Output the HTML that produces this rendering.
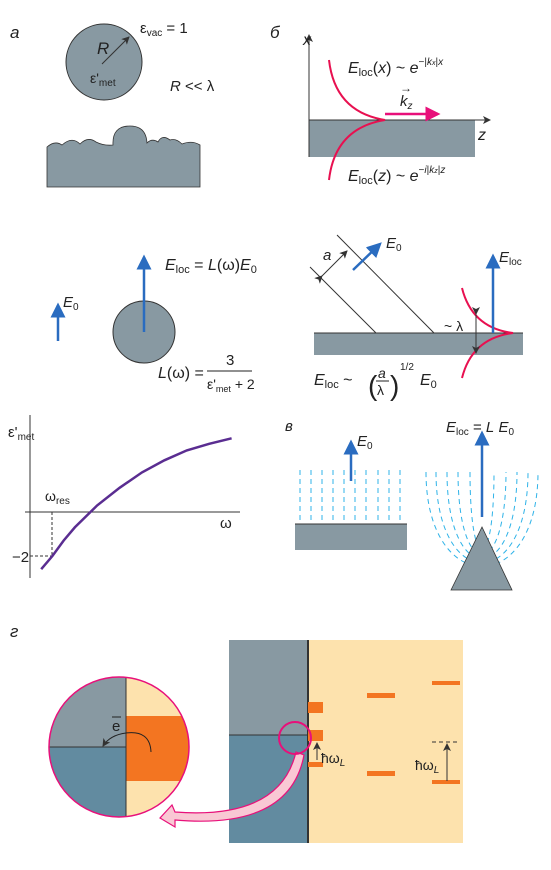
<!DOCTYPE html>
<html><head><meta charset="utf-8"><style>
body{margin:0;background:#fff}
svg{display:block;font-family:"Liberation Sans",sans-serif}
text{fill:#222}
</style></head><body>
<svg width="551" height="870" viewBox="0 0 551 870">
<defs>
<marker id="ah" markerWidth="8" markerHeight="8" refX="7" refY="4" orient="auto"><path d="M0,0 L8,4 L0,8 L2,4z" fill="#333"/></marker>
<marker id="ahb" markerWidth="6" markerHeight="6" refX="5" refY="3" orient="auto"><path d="M0,0 L6,3 L0,6z" fill="#2a6cc0"/></marker>
<marker id="ahp" markerWidth="6" markerHeight="6" refX="5" refY="3" orient="auto"><path d="M0,0 L6,3 L0,6z" fill="#e8107a"/></marker>
<clipPath id="bc"><circle cx="119" cy="747" r="70"/></clipPath>
</defs>

<g>
<text x="10" y="38" font-size="17" font-style="italic">а</text>
<circle cx="104" cy="62" r="38" fill="#8899a2" stroke="#333" stroke-width="1"/>
<line x1="102" y1="64" x2="129" y2="37" stroke="#333" stroke-width="1" marker-end="url(#ah)"/>
<text x="97" y="54" font-size="17" font-style="italic">R</text>
<text x="90" y="83" font-size="14">ε'<tspan font-size="10" dy="3">met</tspan></text>
<text x="140" y="33" font-size="15">ε<tspan font-size="10" dy="3">vac</tspan><tspan dy="-3"> = 1</tspan></text>
<text x="170" y="91" font-size="15"><tspan font-style="italic">R</tspan> &lt;&lt; λ</text>
<path d="M47,147 Q55,140 62,145 Q72,136 80,144 Q88,136 96,142 Q104,146 113,145 Q112,126 130,126 Q146,126 147,143 Q152,138 158,142 Q162,134 170,140 Q176,138 182,144 Q192,140 200,145 L200,187 L47,187Z" fill="#8899a2" stroke="#333" stroke-width="0.8"/>
</g>

<g>
<text x="270" y="38" font-size="17" font-style="italic">б</text>
<rect x="309" y="120" width="166" height="37" fill="#8899a2"/>
<line x1="309" y1="157" x2="309" y2="35" stroke="#333" marker-end="url(#ah)"/>
<line x1="309" y1="120" x2="490" y2="120" stroke="#333" marker-end="url(#ah)"/>
<text x="303" y="45" font-size="16" font-style="italic">x</text>
<text x="478" y="140" font-size="16" font-style="italic">z</text>
<path d="M329,60 Q335,112 385,120 Q335,128 329,180" fill="none" stroke="#e81050" stroke-width="2"/>
<line x1="385" y1="114" x2="438" y2="114" stroke="#e8107a" stroke-width="2.5" marker-end="url(#ahp)"/>
<text x="400" y="106" font-size="15" font-style="italic">k<tspan font-size="10" dy="3">z</tspan></text>
<text x="400" y="92" font-size="12">→</text>
<text x="348" y="73" font-size="16"><tspan font-style="italic">E</tspan><tspan font-size="11" dy="3">loc</tspan><tspan dy="-3">(<tspan font-style="italic">x</tspan>) ~ <tspan font-style="italic">e</tspan></tspan><tspan font-size="10" dy="-8">−|<tspan font-style="italic">k<tspan font-size="7">x</tspan></tspan>|<tspan font-style="italic">x</tspan></tspan></text>
<text x="348" y="181" font-size="16"><tspan font-style="italic">E</tspan><tspan font-size="11" dy="3">loc</tspan><tspan dy="-3">(<tspan font-style="italic">z</tspan>) ~ <tspan font-style="italic">e</tspan></tspan><tspan font-size="10" dy="-8">−<tspan font-style="italic">i</tspan>|<tspan font-style="italic">k<tspan font-size="7">z</tspan></tspan>|<tspan font-style="italic">z</tspan></tspan></text>
</g>

<g>
<line x1="58" y1="341" x2="58" y2="305" stroke="#2a6cc0" stroke-width="2.5" marker-end="url(#ahb)"/>
<text x="63" y="307" font-size="15"><tspan font-style="italic">E</tspan><tspan font-size="10" dy="3">0</tspan></text>
<circle cx="144" cy="332" r="31" fill="#8899a2" stroke="#333"/>
<line x1="144" y1="332" x2="144" y2="257" stroke="#2a6cc0" stroke-width="2.5" marker-end="url(#ahb)"/>
<text x="165" y="270" font-size="16"><tspan font-style="italic">E</tspan><tspan font-size="11" dy="3">loc</tspan><tspan dy="-3"> = <tspan font-style="italic">L</tspan>(ω)<tspan font-style="italic">E</tspan></tspan><tspan font-size="11" dy="3">0</tspan></text>
<text x="158" y="378" font-size="16"><tspan font-style="italic">L</tspan>(ω) =</text>
<text x="226" y="365" font-size="15">3</text>
<line x1="207" y1="371" x2="252" y2="371" stroke="#222"/>
<text x="207" y="389" font-size="14">ε'<tspan font-size="9" dy="3">met</tspan><tspan dy="-3"> + 2</tspan></text>
</g>

<g>
<rect x="314" y="333" width="209" height="22" fill="#8899a2"/>
<line x1="314" y1="333" x2="523" y2="333" stroke="#333"/>
<line x1="376" y1="333" x2="310" y2="267" stroke="#333"/>
<line x1="434" y1="333" x2="337" y2="235" stroke="#333"/>
<line x1="322" y1="276" x2="347" y2="251" stroke="#333" marker-end="url(#ah)" marker-start="url(#ah)"/>
<text x="323" y="260" font-size="15" font-style="italic">a</text>
<line x1="353" y1="270" x2="380" y2="244" stroke="#2a6cc0" stroke-width="2.5" marker-end="url(#ahb)"/>
<text x="386" y="248" font-size="15"><tspan font-style="italic">E</tspan><tspan font-size="10" dy="3">0</tspan></text>
<path d="M462,288 Q472,328 513,333 Q472,338 462,378" fill="none" stroke="#e81050" stroke-width="2"/>
<line x1="493" y1="333" x2="493" y2="256" stroke="#2a6cc0" stroke-width="2.5" marker-end="url(#ahb)"/>
<text x="499" y="262" font-size="15"><tspan font-style="italic">E</tspan><tspan font-size="10" dy="3">loc</tspan></text>
<line x1="476" y1="314" x2="476" y2="353" stroke="#333" marker-end="url(#ah)" marker-start="url(#ah)"/>
<text x="444" y="331" font-size="14">~ λ</text>
<text x="314" y="385" font-size="16"><tspan font-style="italic">E</tspan><tspan font-size="11" dy="3">loc</tspan><tspan dy="-3"> ~</tspan></text>
<text x="368" y="395" font-size="28">(</text>
<text x="378" y="378" font-size="14" font-style="italic">a</text>
<line x1="376" y1="381" x2="389" y2="381" stroke="#222"/>
<text x="377" y="395" font-size="14">λ</text>
<text x="390" y="395" font-size="28">)</text>
<text x="400" y="370" font-size="10">1/2</text>
<text x="420" y="385" font-size="16"><tspan font-style="italic">E</tspan><tspan font-size="11" dy="3">0</tspan></text>
</g>

<g id="graph">
<line x1="30" y1="578" x2="30" y2="415" stroke="#333"/>
<line x1="25" y1="512" x2="240" y2="512" stroke="#333"/>
<text x="8" y="437" font-size="15">ε'<tspan font-size="10" dy="3">met</tspan></text>
<text x="220" y="528" font-size="15">ω</text>
<text x="12" y="562" font-size="15">−2</text>
<line x1="52" y1="512" x2="52" y2="556" stroke="#333" stroke-dasharray="3,2"/>
<line x1="30" y1="556" x2="52" y2="556" stroke="#333" stroke-dasharray="3,2"/>
<text x="45" y="501" font-size="14">ω<tspan font-size="10" dy="3">res</tspan></text>
<path id="eps-curve" fill="none" stroke="#5a2d91" stroke-width="2.5"/>
</g>

<g id="pv">
<text x="285" y="431" font-size="15" font-style="italic">в</text>
<g id="flatlines"></g>
<g id="tiplines"></g>
<rect x="295" y="524" width="112" height="26" fill="#8899a2"/>
<line x1="295" y1="524" x2="407" y2="524" stroke="#333"/>
<line x1="351" y1="481" x2="351" y2="442" stroke="#2a6cc0" stroke-width="2.5" marker-end="url(#ahb)"/>
<text x="357" y="446" font-size="15"><tspan font-style="italic">E</tspan><tspan font-size="10" dy="3">0</tspan></text>
<path d="M451,590 L482,527 L512,590Z" fill="#8899a2" stroke="#333" stroke-width="0.8"/>
<line x1="482" y1="517" x2="482" y2="433" stroke="#2a6cc0" stroke-width="2.5" marker-end="url(#ahb)"/>
<text x="446" y="432" font-size="15"><tspan font-style="italic">E</tspan><tspan font-size="10" dy="3">loc</tspan><tspan dy="-3"> = <tspan font-style="italic">L</tspan> <tspan font-style="italic">E</tspan></tspan><tspan font-size="10" dy="3">0</tspan></text>
</g>

<g>
<text x="10" y="637" font-size="17" font-style="italic">г</text>
<rect x="229" y="640" width="79" height="95" fill="#8899a2"/>
<rect x="229" y="735" width="79" height="108" fill="#628ba0"/>
<line x1="229" y1="735" x2="308" y2="735" stroke="#333"/>
<rect x="308" y="640" width="155" height="203" fill="#fde2ad"/>
<line x1="308" y1="640" x2="308" y2="843" stroke="#333" stroke-width="2"/>
<g fill="#f37521">
<rect x="308" y="702" width="15" height="11"/><rect x="308" y="730" width="15" height="11"/><rect x="308" y="762" width="15" height="5"/>
<rect x="367" y="693" width="28" height="5"/><rect x="367" y="771" width="28" height="5"/>
<rect x="432" y="681" width="28" height="4"/><rect x="432" y="780" width="28" height="4"/>
</g>
<line x1="432" y1="742" x2="460" y2="742" stroke="#333" stroke-dasharray="4,3"/>
<line x1="447" y1="781" x2="447" y2="744" stroke="#333" marker-end="url(#ah)"/>
<line x1="317" y1="760" x2="317" y2="743" stroke="#333" marker-end="url(#ah)"/>
<text x="321" y="763" font-size="14">ħω<tspan font-size="10" dy="3" font-style="italic">L</tspan></text>
<text x="415" y="770" font-size="14">ħω<tspan font-size="10" dy="3" font-style="italic">L</tspan></text>
<path d="M296,752 Q280,820 175,812 L172,805 L160,818 L175,827 L175,820 Q290,830 304,755Z" fill="#f9c8d4" stroke="#e8107a" stroke-width="1.2"/>
<circle cx="295" cy="738" r="16" fill="none" stroke="#e8107a" stroke-width="2"/>
<g clip-path="url(#bc)">
<rect x="49" y="677" width="77" height="70" fill="#8899a2"/>
<rect x="49" y="747" width="77" height="70" fill="#628ba0"/>
<rect x="126" y="677" width="70" height="140" fill="#fde2ad"/>
<rect x="126" y="716" width="70" height="65" fill="#f37521"/>
<line x1="49" y1="747" x2="126" y2="747" stroke="#333"/>
<line x1="126" y1="677" x2="126" y2="817" stroke="#333"/>
</g>
<circle cx="119" cy="747" r="70" fill="none" stroke="#e8107a" stroke-width="1.5"/>
<path d="M151,752 Q150,730 126,733 Q110,735 103,746" fill="none" stroke="#222" marker-end="url(#ah)"/>
<text x="112" y="731" font-size="15">e</text>
<line x1="112" y1="717" x2="121" y2="717" stroke="#222"/>
</g>

<script>
const omegaVals = [0.5, 1.0, 1.5, 2.0, 3.0, 4.0, 5.0, 6.0, 7.0, 8.0, 9.0];
const epsVals = [-2.6, -2.0, -1.3, -0.7, 0.3, 1.1, 1.8, 2.35, 2.8, 3.1, 3.35];
const xTickLabels = ["ω_res"];
function xs(w){return 30 + w*22.4;}
function ys(e){return 512 - e*22;}
let d = omegaVals.map((w,i)=>(i?'L':'M')+xs(w).toFixed(1)+','+ys(epsVals[i]).toFixed(1)).join(' ');
document.getElementById('eps-curve').setAttribute('d', d);

const NS='http://www.w3.org/2000/svg';
const fl=document.getElementById('flatlines');
const flatLineX=[300,311,322,333,344,355,366,378,389,400];
flatLineX.forEach(x=>{
  const l=document.createElementNS(NS,'line');
  l.setAttribute('x1',x);l.setAttribute('x2',x);l.setAttribute('y1',470);l.setAttribute('y2',524);
  l.setAttribute('stroke','#2fb3e8');l.setAttribute('stroke-dasharray','5,4');
  
  
  fl.appendChild(l);
});
const tl=document.getElementById('tiplines');
const tipOffsets=[12,24,35,46,56];
tipOffsets.forEach(o=>{
  const p=document.createElementNS(NS,'path');
  const yb=570+o*0.5;
  p.setAttribute('d','M'+(482-o)+',472 C'+(482-o)+','+yb+' '+(482+o)+','+yb+' '+(482+o)+',472');
  p.setAttribute('fill','none');p.setAttribute('stroke','#2fb3e8');p.setAttribute('stroke-dasharray','5,4');
  
  
  tl.appendChild(p);
});
</script>
</svg>
</body></html>
